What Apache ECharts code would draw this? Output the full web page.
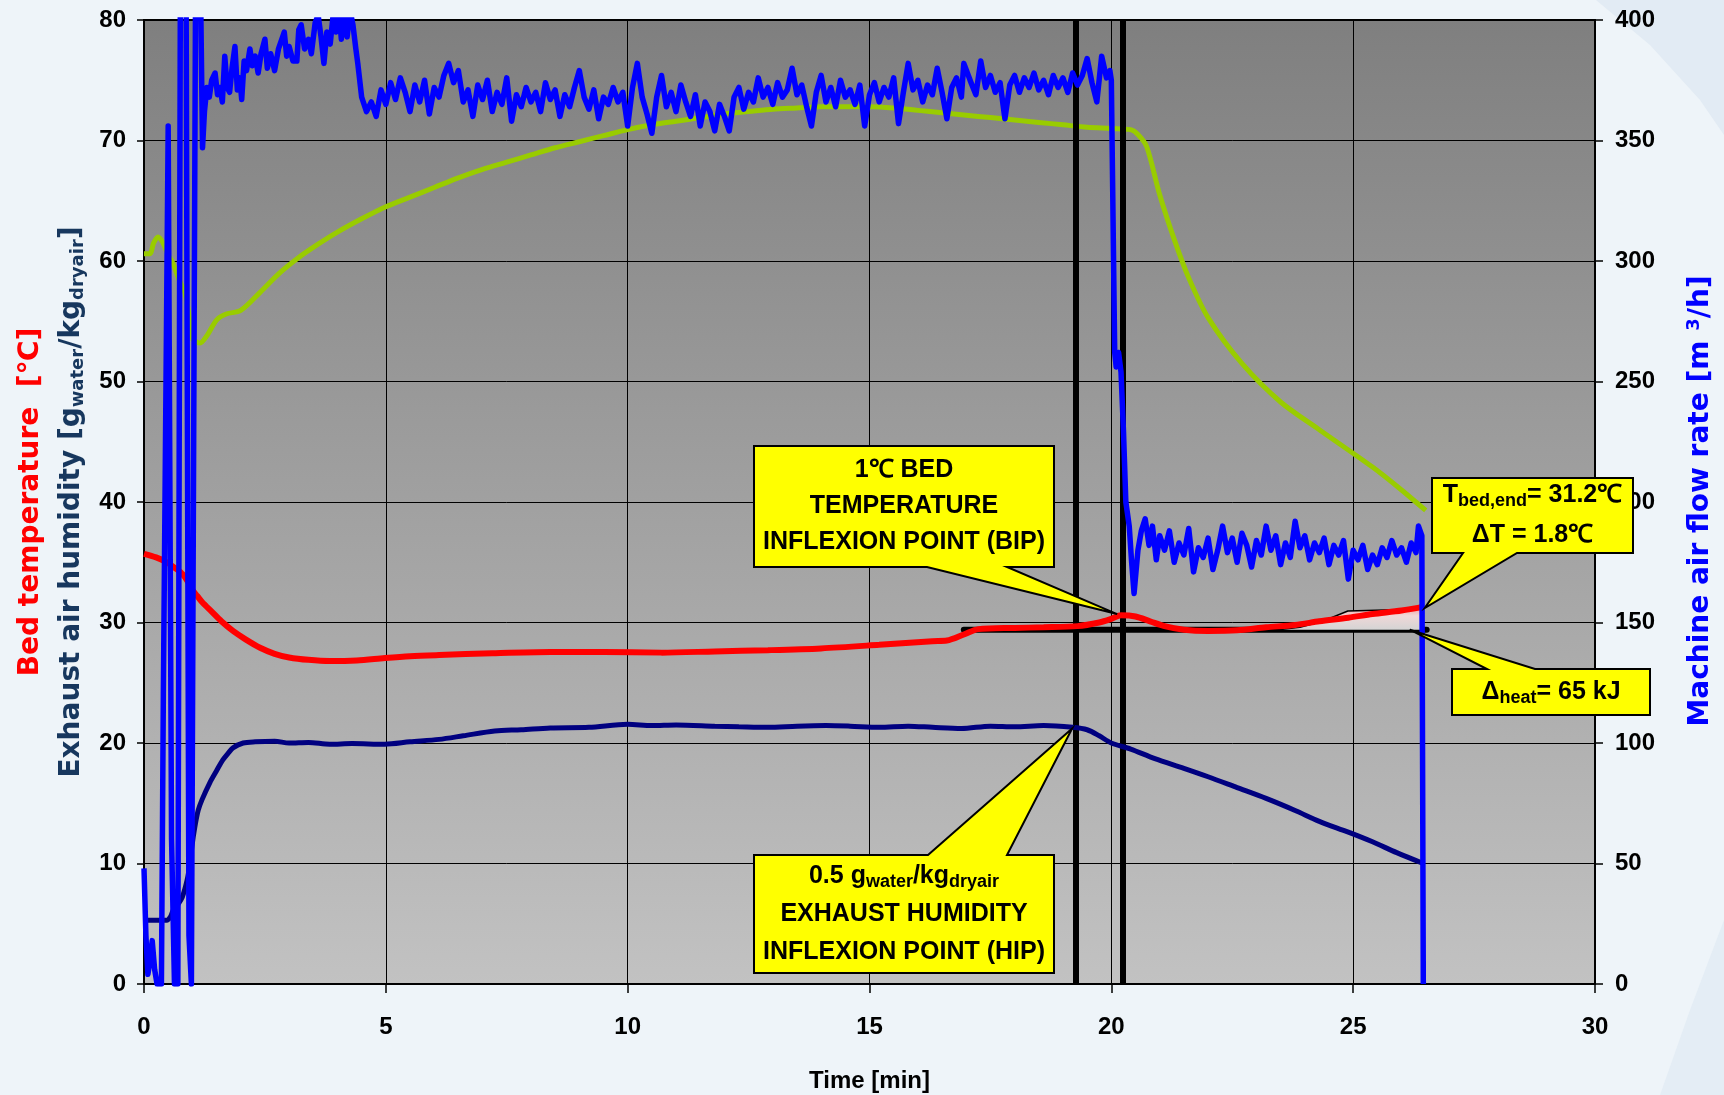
<!DOCTYPE html>
<html>
<head>
<meta charset="utf-8">
<script src="https://cdn.jsdelivr.net/npm/echarts@6/dist/echarts.min.js"></script>
<style>
html, body { margin: 0; padding: 0; background: #eef4f9; }
#chart { width: 1724px; height: 1095px; }
</style>
</head>
<body>
<div id="chart"></div>
<script>
// axis ticks
var timeTicks = [0, 5, 10, 15, 20, 25, 30];
var leftTicks = [0, 10, 20, 30, 40, 50, 60, 70, 80];
var rightTicks = [0, 50, 100, 150, 200, 250, 300, 350, 400];

// bed temperature [C]  (time min, value)
var bedTemp = [[0,35.7],[0.25,35.4],[0.47,35.0],[0.65,34.5],[0.8,34.0],[0.92,33.3],[1.0,32.7],[1.1,32.2],[1.2,31.7],
  [1.4,30.9],[1.6,30.1],[1.84,29.3],[2.1,28.6],[2.4,27.9],[2.7,27.4],[3.0,27.1],[3.4,26.9],[3.84,26.8],[4.4,26.85],
  [4.98,27.05],[5.5,27.2],[6.1,27.3],[7.2,27.45],[8.4,27.55],[9.5,27.55],[10.7,27.5],[11.8,27.6],[12.9,27.7],[14,27.85],
  [15.2,28.15],[16.3,28.45],[16.6,28.5],[16.95,29.0],[17.25,29.45],[18.0,29.55],[18.6,29.6],[19.3,29.7],[19.75,30.0],
  [20.0,30.3],[20.2,30.6],[20.5,30.5],[20.8,30.1],[21.1,29.7],[21.5,29.4],[22.0,29.3],[22.6,29.35],[23.2,29.6],[23.8,29.8],
  [24.3,30.1],[24.9,30.4],[25.4,30.7],[26.0,31.0],[26.45,31.3]];

// exhaust air humidity [g/kg]
var humidity = [[0,5.3],[0.47,5.3],[0.55,5.6],[0.6,6.1],[0.7,6.6],[0.79,7.2],[0.89,8.6],[0.95,10.0],[0.99,11.4],[1.05,13.0],
  [1.12,14.4],[1.2,15.3],[1.36,16.7],[1.5,17.7],[1.63,18.6],[1.75,19.2],[1.84,19.6],[2.05,20.0],[2.3,20.1],[2.7,20.15],
  [3.0,20.0],[3.4,20.05],[3.84,19.9],[4.3,19.95],[4.98,19.9],[5.5,20.1],[6.1,20.3],[6.6,20.6],[7.25,21.0],[7.8,21.1],
  [8.4,21.25],[9.2,21.3],[10.0,21.55],[10.5,21.45],[11.0,21.5],[11.8,21.4],[12.3,21.35],[12.9,21.3],[13.5,21.4],[14.1,21.45],
  [14.6,21.4],[15.2,21.3],[15.8,21.4],[16.3,21.3],[16.9,21.2],[17.5,21.4],[18.0,21.35],[18.6,21.45],[19.2,21.3],[19.5,21.1],
  [19.75,20.6],[20.0,20.0],[20.4,19.5],[20.9,18.7],[21.5,17.9],[22.0,17.2],[22.6,16.3],[23.2,15.4],[23.8,14.4],[24.3,13.5],
  [24.9,12.6],[25.4,11.8],[25.9,10.9],[26.45,10.0]];

// exhaust air temperature (green) [C]
var exhaustTemp = [[0,60.6],[0.12,60.6],[0.2,61.5],[0.29,62.0],[0.38,61.6],[0.5,60.5],[0.6,59.8],[0.72,58.5],[0.85,57.3],
  [0.95,55.0],[1.01,53.5],[1.16,53.2],[1.3,53.8],[1.5,55.1],[1.7,55.6],[2.0,55.9],[2.4,57.4],[2.8,59.0],[3.2,60.3],[3.6,61.4],
  [4.0,62.4],[4.5,63.5],[5.0,64.5],[5.5,65.3],[6.0,66.1],[6.5,66.9],[7.0,67.6],[7.5,68.2],[8.0,68.8],[8.5,69.4],[9.0,69.9],
  [9.5,70.4],[10.0,70.9],[10.5,71.3],[11.0,71.6],[11.5,71.9],[12.0,72.2],[12.5,72.4],[13.0,72.6],[13.5,72.7],[14.0,72.8],
  [14.5,72.8],[15.0,72.8],[15.5,72.7],[16.0,72.5],[16.5,72.3],[17.0,72.1],[17.5,71.9],[18.0,71.7],[18.5,71.5],[19.0,71.3],
  [19.5,71.1],[20.0,71.0],[20.4,70.9],[20.55,70.5],[20.73,69.5],[21.0,65.5],[21.3,61.8],[21.6,58.6],[22.0,55.3],[22.7,51.5],
  [23.5,48.3],[24.3,46.0],[25.4,42.9],[26.0,41.0],[26.5,39.3]];

// machine air flow rate [m3/h]
var flowStart = [[0,48],[0.04,20],[0.08,4],[0.12,9],[0.17,18],[0.22,6],[0.27,0],[0.36,0],[0.4,120],[0.5,356],[0.57,60],
  [0.63,0],[0.7,0],[0.76,480],[0.86,480],[0.93,20],[0.98,0],[1.02,0],[1.08,480],[1.14,460],[1.21,347],[1.25,362],[1.3,372],
  [1.35,368],[1.4,375],[1.47,378],[1.52,369],[1.57,372],[1.62,366],[1.67,385],[1.72,372],[1.77,370],[1.82,380],[1.88,389],
  [1.93,371],[1.98,376],[2.02,367],[2.07,383],[2.12,379],[2.19,388],[2.24,381],[2.3,385],[2.36,378],[2.42,386],[2.5,392],
  [2.55,380],[2.62,386],[2.7,379],[2.78,388],[2.85,392],[2.9,395],[2.95,385],[3.0,389],[3.08,383],[3.16,383],[3.2,396],
  [3.25,398],[3.32,388],[3.4,392],[3.46,386],[3.54,399],[3.6,402],[3.66,393],[3.72,382],[3.78,395],[3.85,390],[3.91,402],
  [3.97,395],[4.03,404],[4.08,392],[4.14,402],[4.2,393],[4.26,404],[4.32,398],[4.38,388],[4.42,382]];
var flowMid = [[4.5,368],[4.6,362],[4.7,366],[4.8,360],[4.9,371],[5.0,365],[5.1,374],[5.2,367],[5.3,376],[5.4,370],[5.5,362],
  [5.6,373],[5.7,366],[5.8,375],[5.9,361],[6.0,372],[6.1,368],[6.2,377],[6.3,382],[6.4,374],[6.5,379],[6.6,366],[6.7,371],
  [6.8,360],[6.9,373],[7.0,367],[7.1,375],[7.2,362],[7.3,370],[7.4,365],[7.5,376],[7.6,358],[7.7,369],[7.8,364],[7.9,372],
  [8.0,366],[8.1,370],[8.2,362],[8.3,374],[8.4,367],[8.5,371],[8.6,360],[8.7,369],[8.8,364],[8.9,372],[9.0,379],[9.1,368],
  [9.2,363],[9.3,371],[9.4,359],[9.5,368],[9.6,365],[9.7,372],[9.8,366],[9.9,370],[10.0,356],[10.1,372],[10.2,382],[10.3,368],
  [10.4,361],[10.5,353],[10.6,368],[10.7,377],[10.8,364],[10.9,370],[11.0,362],[11.1,373],[11.2,366],[11.3,360],[11.4,369],
  [11.5,356],[11.6,366],[11.7,362],[11.8,354],[11.9,365],[12.0,360],[12.1,354],[12.2,368],[12.3,372],[12.4,363],[12.5,370],
  [12.6,366],[12.7,376],[12.8,368],[12.9,372],[13.0,365],[13.1,374],[13.2,368],[13.3,371],[13.4,380],[13.5,369],[13.6,373],
  [13.7,364],[13.8,356],[13.9,370],[14.0,377],[14.1,366],[14.2,372],[14.3,364],[14.4,375],[14.5,368],[14.6,371],[14.7,365],
  [14.8,373],[14.9,356],[15.0,369],[15.1,374],[15.2,366],[15.3,372],[15.4,368],[15.5,376],[15.6,357],[15.7,370],[15.8,382],
  [15.9,371],[16.0,375],[16.1,366],[16.2,373],[16.3,369],[16.4,380],[16.5,370],[16.6,359],[16.7,372],[16.8,376],[16.9,368],
  [16.95,382],[17.1,374],[17.2,369],[17.3,383],[17.4,372],[17.5,377],[17.6,370],[17.7,374],[17.8,359],[17.9,373],[18.0,377],
  [18.1,370],[18.2,376],[18.3,372],[18.4,378],[18.5,371],[18.6,375],[18.7,369],[18.8,377],[18.9,372],[19.0,376],[19.1,370],
  [19.2,378],[19.3,373],[19.4,377],[19.5,384],[19.6,374],[19.7,366],[19.8,385],[19.9,376],[19.97,379]];
var flowEnd = [[20.0,375],[20.07,262],[20.1,256],[20.15,262],[20.2,254],[20.25,230],[20.3,200],[20.37,190],[20.42,175],
  [20.47,162],[20.55,180],[20.62,188],[20.7,193],[20.78,182],[20.85,190],[20.93,176],[21.0,186],[21.1,180],[21.2,188],
  [21.3,175],[21.4,183],[21.5,178],[21.6,189],[21.7,171],[21.8,181],[21.9,177],[22.0,185],[22.1,172],[22.2,180],[22.3,190],
  [22.4,179],[22.5,185],[22.6,175],[22.7,187],[22.8,182],[22.9,173],[23.0,184],[23.1,178],[23.2,190],[23.3,180],[23.4,186],
  [23.5,174],[23.6,183],[23.7,177],[23.8,192],[23.9,181],[24.0,186],[24.1,176],[24.2,183],[24.3,179],[24.4,185],[24.5,174],
  [24.6,182],[24.7,178],[24.8,184],[24.9,168],[25.0,180],[25.1,176],[25.2,182],[25.3,172],[25.4,178],[25.5,174],[25.6,181],
  [25.7,177],[25.8,184],[25.9,178],[26.0,181],[26.1,175],[26.2,183],[26.3,179],[26.35,190],[26.42,186],[26.45,0]];
var flowRate = flowStart.concat(flowMid, flowEnd);

// heat area outline and reference lines
var heatArea = [[23.45,29.4],[23.9,29.6],[24.37,30.1],[24.89,30.95],[26.24,31.1],[26.42,31.5],[26.42,29.4]];
var baseLine = [[16.95,29.4],[26.52,29.4]];
var inflexionTimes = [19.27, 20.23];

var tickFont = { fontSize: 24, fontWeight: 'bold', color: '#000', fontFamily: 'Liberation Sans, Arial' };

var chart = echarts.init(document.getElementById('chart'));

var option = {
    backgroundColor: '#eef4f9',
    animation: false,
    grid: {
        left: 144, right: 129, top: 20, bottom: 111,
        show: true,
        borderColor: '#000',
        borderWidth: 2,
        outerBoundsMode: 'none',
        backgroundColor: {
            type: 'linear', x: 0, y: 0, x2: 0, y2: 1,
            colorStops: [{ offset: 0, color: '#7f7f7f' }, { offset: 1, color: '#c2c2c2' }]
        }
    },
    xAxis: {
        type: 'value', min: timeTicks[0], max: timeTicks[timeTicks.length - 1], interval: 5,
        axisLine: { lineStyle: { color: '#000', width: 2 } },
        axisTick: { length: 9, lineStyle: { color: '#000', width: 1.5 } },
        axisLabel: Object.assign({ margin: 31 }, tickFont),
        splitLine: { lineStyle: { color: '#000', width: 1 } },
        name: 'Time [min]',
        nameLocation: 'middle',
        nameGap: 85,
        nameTextStyle: { fontSize: 24, fontWeight: 'bold', color: '#000', fontFamily: 'Liberation Sans, Arial' }
    },
    yAxis: [{
        type: 'value', min: leftTicks[0], max: leftTicks[leftTicks.length - 1], interval: 10,
        axisLine: { show: true, lineStyle: { color: '#000', width: 2 } },
        axisTick: { show: true, length: 7, lineStyle: { color: '#000', width: 1.5 } },
        axisLabel: Object.assign({ margin: 18 }, tickFont),
        splitLine: { lineStyle: { color: '#000', width: 1 } }
    }, {
        type: 'value', position: 'right', min: rightTicks[0], max: rightTicks[rightTicks.length - 1], interval: 50,
        axisLine: { show: true, lineStyle: { color: '#000', width: 2 } },
        axisTick: { show: true, length: 8, lineStyle: { color: '#000', width: 1.5 } },
        axisLabel: Object.assign({ margin: 20 }, tickFont),
        splitLine: { show: false }
    }],
    series: [{
        name: 'base', type: 'line', data: baseLine, showSymbol: false, z: 2,
        lineStyle: { color: '#000', width: 6, cap: 'round' },
        markLine: {
            silent: true, symbol: 'none', label: { show: false },
            lineStyle: { color: '#000', width: 6, type: 'solid' },
            data: inflexionTimes.map(function (t) { return { xAxis: t }; })
        }
    }, {
        name: 'heat', type: 'line', data: heatArea, showSymbol: false, z: 3,
        lineStyle: { color: '#000', width: 1.5 },
        areaStyle: {
            origin: 29.4, opacity: 1,
            color: {
                type: 'linear', x: 0, y: 0, x2: 0, y2: 1,
                colorStops: [{ offset: 0, color: '#f28c8c' }, { offset: 0.45, color: '#f0d8d8' }, { offset: 1, color: '#d4d4d4' }]
            }
        }
    }, {
        name: 'Exhaust air temperature', type: 'line', data: exhaustTemp, showSymbol: false, smooth: 0.3, z: 4,
        lineStyle: { color: '#99cc00', width: 5 }
    }, {
        name: 'Bed temperature', type: 'line', data: bedTemp, showSymbol: false, smooth: 0.3, z: 5,
        lineStyle: { color: '#ff0000', width: 6 }
    }, {
        name: 'Exhaust air humidity', type: 'line', data: humidity, showSymbol: false, smooth: 0.3, z: 5,
        lineStyle: { color: '#000080', width: 5 }
    }, {
        name: 'Machine air flow rate', type: 'line', yAxisIndex: 1, data: flowRate, showSymbol: false, z: 6,
        lineStyle: { color: '#0000ff', width: 5.5, join: 'round' }
    }]
};
chart.setOption(option);

// callout boxes: box [l, t, r, b], pointer base x range, tip in data units
function calloutShape(box, baseA, baseB, tip, onTop) {
    var l = box[0], t = box[1], r = box[2], b = box[3];
    if (onTop) return [[l, t], [baseA, t], tip, [baseB, t], [r, t], [r, b], [l, b]];
    return [[l, t], [r, t], [r, b], [baseB, b], tip, [baseA, b], [l, b]];
}

var big = { fontSize: 25, fontWeight: 'bold', fontFamily: 'Liberation Sans, Arial', fill: '#000' };
function rs(extra) { return Object.assign({}, big, extra); }

var callouts = [{
    box: [754, 446, 1054, 567], base: [927, 1007], tip: [20.12, 30.7], top: false,
    text: '{b|1℃ BED}\n{b|TEMPERATURE}\n{b|INFLEXION POINT (BIP)}',
    rich: { b: rs({ lineHeight: 36 }) }
}, {
    box: [754, 855, 1054, 973], base: [928, 1007], tip: [19.19, 21.2], top: true,
    text: '{b|0.5 g}{s|water}{b|/kg}{s|dryair}\n{c|EXHAUST HUMIDITY}\n{c|INFLEXION POINT (HIP)}',
    rich: { b: rs({ lineHeight: 38 }), s: rs({ fontSize: 18, lineHeight: 26, padding: [12, 0, 0, 0] }), c: rs({ lineHeight: 38 }) }
}, {
    box: [1432, 478, 1633, 553], base: [1463, 1517], tip: [26.48, 31.2], top: false,
    text: '{b|T}{s|bed,end}{b|= 31.2℃}\n{c|ΔT = 1.8℃}',
    rich: { b: rs({ lineHeight: 40 }), s: rs({ fontSize: 18, lineHeight: 28, padding: [12, 0, 0, 0] }), c: rs({ lineHeight: 40 }) }
}, {
    box: [1452, 669, 1650, 715], base: [1487, 1535], tip: [26.17, 29.4], top: true,
    text: '{b|Δ}{s|heat}{b|= 65 kJ}',
    rich: { b: rs({ lineHeight: 40 }), s: rs({ fontSize: 18, lineHeight: 28, padding: [12, 0, 0, 0] }) }
}];

var graphics = [
    { type: 'polygon', silent: true, z: -10, shape: { points: [[1596, 0], [1650, 45], [1700, 100], [1724, 135], [1724, 0]] }, style: { fill: '#e2ebf4' } },
    { type: 'polygon', silent: true, z: -10, shape: { points: [[1660, 1095], [1690, 1010], [1724, 920], [1724, 1095]] }, style: { fill: '#e4edf5' } },
    {
        type: 'text', x: 51, y: 502, rotation: Math.PI / 2, z: 50,
        style: {
            text: '{r|Bed temperature  [℃]}\n{n|Exhaust air humidity [g}{ns|water}{n|/kg}{ns|dryair}{n|]}',
            align: 'center', verticalAlign: 'middle',
            rich: {
                r: { fontSize: 28, fontWeight: 'bold', fontFamily: 'DejaVu Sans', fill: '#ff0000', lineHeight: 41 },
                n: { fontSize: 28, fontWeight: 'bold', fontFamily: 'DejaVu Sans', fill: '#17375e', lineHeight: 41 },
                ns: { fontSize: 18, fontWeight: 'bold', fontFamily: 'DejaVu Sans', fill: '#17375e', lineHeight: 28, padding: [13, 0, 0, 0] }
            }
        }
    },
    {
        type: 'text', x: 1701, y: 501, rotation: Math.PI / 2, z: 50,
        style: {
            text: '{m|Machine air flow rate [m }{sup|3}{m|/h]}',
            align: 'center', verticalAlign: 'middle',
            rich: {
                m: { fontSize: 28, fontWeight: 'bold', fontFamily: 'DejaVu Sans', fill: '#0000ff', lineHeight: 40 },
                sup: { fontSize: 18, fontWeight: 'bold', fontFamily: 'DejaVu Sans', fill: '#0000ff', lineHeight: 26, padding: [0, 0, 14, 0] }
            }
        }
    }
];

callouts.forEach(function (c) {
    var tip = chart.convertToPixel({ xAxisIndex: 0, yAxisIndex: 0 }, c.tip);
    graphics.push({
        type: 'polygon', silent: true, z: 100,
        shape: { points: calloutShape(c.box, c.base[0], c.base[1], tip, c.top) },
        style: { fill: '#ffff00', stroke: '#000', lineWidth: 2 }
    });
    graphics.push({
        type: 'text', silent: true, z: 101,
        x: (c.box[0] + c.box[2]) / 2, y: (c.box[1] + c.box[3]) / 2,
        style: { text: c.text, rich: c.rich, align: 'center', verticalAlign: 'middle' }
    });
});

chart.setOption({ graphic: graphics });
</script>
</body>
</html>
